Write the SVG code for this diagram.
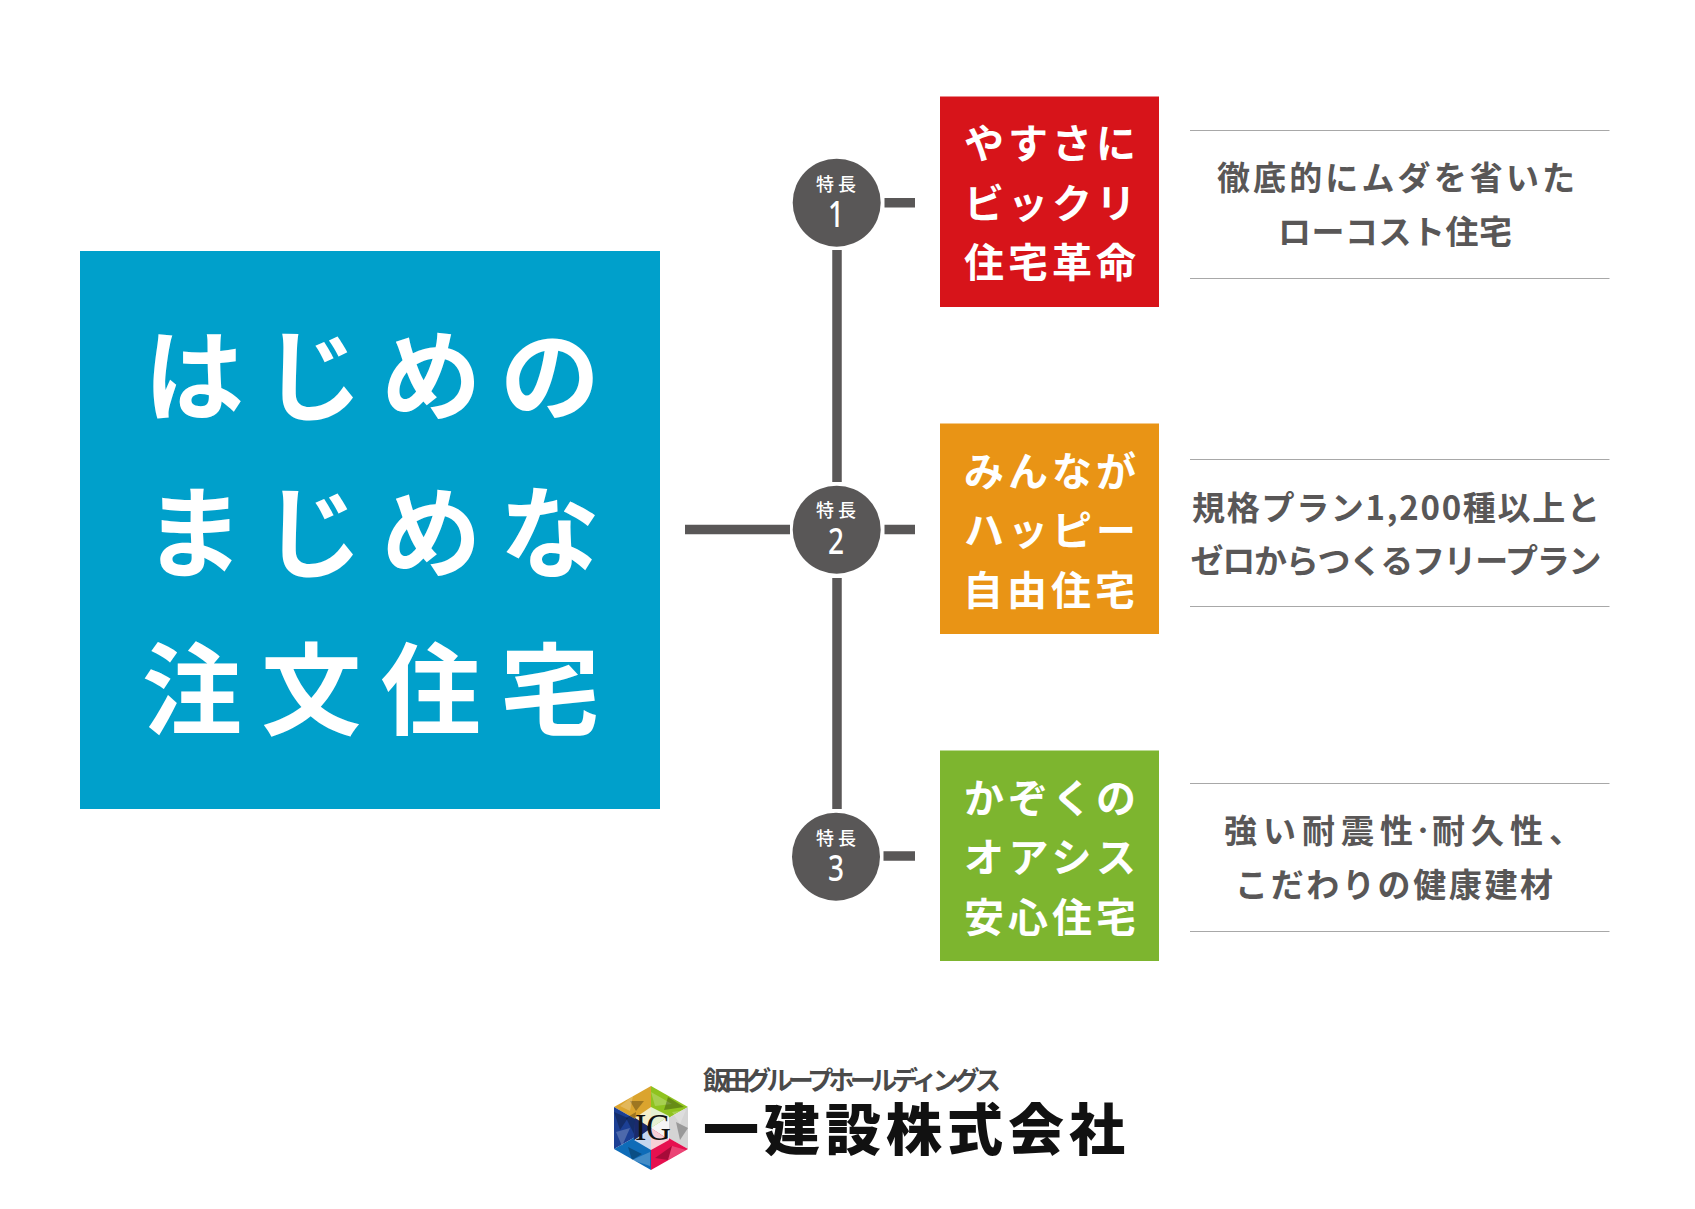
<svg xmlns="http://www.w3.org/2000/svg" width="1695" height="1209" viewBox="0 0 1695 1209">
<style>
text{font-family:"Noto Sans CJK JP","Noto Sans",sans-serif;text-anchor:middle}
.t{font-weight:700;fill:#fff;font-size:100px}
.b{font-weight:700;fill:#fff;font-size:40px}
.d{font-weight:700;fill:#595757;font-size:33px}
.tk{font-weight:500;fill:#fff;font-size:18px}
.n{font-weight:500;fill:#fff;font-size:37px;font-family:"Noto Sans",sans-serif}
.c{stroke:#595757;fill:none;stroke-width:9.500}
.r{stroke:#a8a8a8;stroke-width:1;fill:none}
.dk{fill:#000;opacity:.28}
.lt{fill:#fff;opacity:.22}
</style>
<rect width="1695" height="1209" fill="#fff"/>
<g id="connectors">
<path class="c" d="M837 250V482M837 578V809"/>
<path class="c" d="M685 529.500H790"/>
<path class="c" d="M884.500 202.700H915M884.500 529.500H915M883.500 856H915"/>
</g>
<g id="title"><rect x="80" y="251" width="580" height="558" fill="#00a0cb"/>
<text class="t" x="372" y="413" textLength="456" lengthAdjust="spacing">はじめの</text>
<text class="t" x="372" y="570" textLength="456" lengthAdjust="spacing">まじめな</text>
<text class="t" x="371" y="727" textLength="458" lengthAdjust="spacing">注文住宅</text></g>
<g id="badge1"><circle cx="836.700" cy="202.700" r="44" fill="#595757"/><text class="tk" x="836" y="191" textLength="40" lengthAdjust="spacing">特長</text><text class="n" x="836" y="227" textLength="16" lengthAdjust="spacingAndGlyphs">1</text></g>
<g id="badge2"><circle cx="836.700" cy="529.700" r="44" fill="#595757"/><text class="tk" x="836" y="517" textLength="40" lengthAdjust="spacing">特長</text><text class="n" x="836" y="554" textLength="16" lengthAdjust="spacingAndGlyphs">2</text></g>
<g id="badge3"><circle cx="836" cy="856.700" r="44" fill="#595757"/><text class="tk" x="836" y="845" textLength="40" lengthAdjust="spacing">特長</text><text class="n" x="836" y="881" textLength="16" lengthAdjust="spacingAndGlyphs">3</text></g>
<g id="box1"><rect x="940" y="96.500" width="219" height="210.500" fill="#d7141a"/>
<text class="b" x="1050" y="158" textLength="172" lengthAdjust="spacing">やすさに</text><text class="b" x="1050" y="218" textLength="172" lengthAdjust="spacing">ビックリ</text><text class="b" x="1050" y="277" textLength="172" lengthAdjust="spacing">住宅革命</text></g>
<g id="box2"><rect x="940" y="423.500" width="219" height="210.500" fill="#e99415"/>
<text class="b" x="1050" y="486" textLength="172" lengthAdjust="spacing">みんなが</text><text class="b" x="1050" y="545" textLength="172" lengthAdjust="spacing">ハッピー</text><text class="b" x="1049" y="605" textLength="172" lengthAdjust="spacing">自由住宅</text></g>
<g id="box3"><rect x="940" y="750.500" width="219" height="210.500" fill="#7db52f"/>
<text class="b" x="1050" y="813" textLength="172" lengthAdjust="spacing">かぞくの</text><text class="b" x="1050" y="872" textLength="172" lengthAdjust="spacing">オアシス</text><text class="b" x="1050" y="932" textLength="172" lengthAdjust="spacing">安心住宅</text></g>
<g id="desc1"><path class="r" d="M1190 130.500H1609.500M1190 278.500H1609.500"/>
<text class="d" x="1396" y="190" textLength="358" lengthAdjust="spacing">徹底的にムダを省いた</text><text class="d" x="1395" y="244" textLength="234" lengthAdjust="spacing">ローコスト住宅</text></g>
<g id="desc2"><path class="r" d="M1190 459.500H1609.500M1190 606.500H1609.500"/>
<text class="d" x="1396" y="520" textLength="408" lengthAdjust="spacing">規格プラン1,200種以上と</text><text class="d" x="1396" y="573" textLength="411" lengthAdjust="spacing">ゼロからつくるフリープラン</text></g>
<g id="desc3"><path class="r" d="M1190 783.500H1609.500M1190 931.500H1609.500"/>
<text class="d" x="1224" y="843" style="text-anchor:start;letter-spacing:6px">強い耐震性<tspan dx="-6" dy="-5" style="font-size:20px;font-weight:900">・</tspan><tspan dx="-7" dy="5">耐久性、</tspan></text><text class="d" x="1394" y="897" textLength="318" lengthAdjust="spacing">こだわりの健康建材</text></g>
<g id="logo">
<polygon points="651,1128 651,1086 614,1107" fill="#dba42e"/>
<polygon points="651,1128 651,1086 688,1107" fill="#8fc31f"/>
<polygon points="651,1128 688,1107 688,1149" fill="#d4d4d4"/>
<polygon points="651,1128 688,1149 651,1170" fill="#e6104f"/>
<polygon points="651,1128 651,1170 614,1149" fill="#0f6cb8"/>
<polygon points="651,1128 614,1149 614,1107" fill="#1c3f94"/>
<polygon class="dk" points="630,1101 644,1101 636,1111"/><polygon class="lt" points="620,1106 633,1096 630,1111"/>
<polygon class="lt" points="651,1092 672,1104 655,1106"/><polygon class="dk" points="668,1097 684,1107 664,1110"/>
<polygon class="dk" points="676,1122 688,1128 680,1140"/><polygon class="lt" points="672,1112 686,1110 680,1124"/>
<polygon class="dk" points="655,1158 672,1146 668,1160"/><polygon class="lt" points="672,1146 686,1150 668,1160"/>
<polygon class="dk" points="628,1147 642,1154 632,1160"/><polygon class="lt" points="632,1160 650,1152 650,1166"/>
<polygon class="dk" points="614,1112 628,1118 620,1130"/><polygon class="lt" points="616,1132 630,1128 622,1146"/><polygon class="dk" points="626,1118 636,1112 634,1134"/>
<polygon points="651,1128 651,1107 635,1118" fill="#f4eecb"/>
<polygon points="651,1128 651,1107 669,1116" fill="#e6f0d2"/>
<polygon points="651,1128 669,1116 669,1140" fill="#f5f5f5"/>
<polygon points="651,1128 669,1140 651,1150" fill="#f7cfd6"/>
<polygon points="651,1128 651,1150 634,1140" fill="#c5d6ee"/>
<polygon points="651,1128 634,1140 635,1118" fill="#1a2a6c"/>
<text x="653" y="1140" textLength="36" lengthAdjust="spacingAndGlyphs" style="font-family:'Liberation Serif',serif;font-size:38px;fill:#111">IG</text>
<text x="852" y="1090" style="font-weight:700;font-size:26px;fill:#4a4a4a" textLength="298" lengthAdjust="spacing">飯田グループホールディングス</text>
<text x="914" y="1150" style="font-weight:900;font-size:56px;fill:#111" textLength="422" lengthAdjust="spacing">一建設株式会社</text>
</g>
</svg>
